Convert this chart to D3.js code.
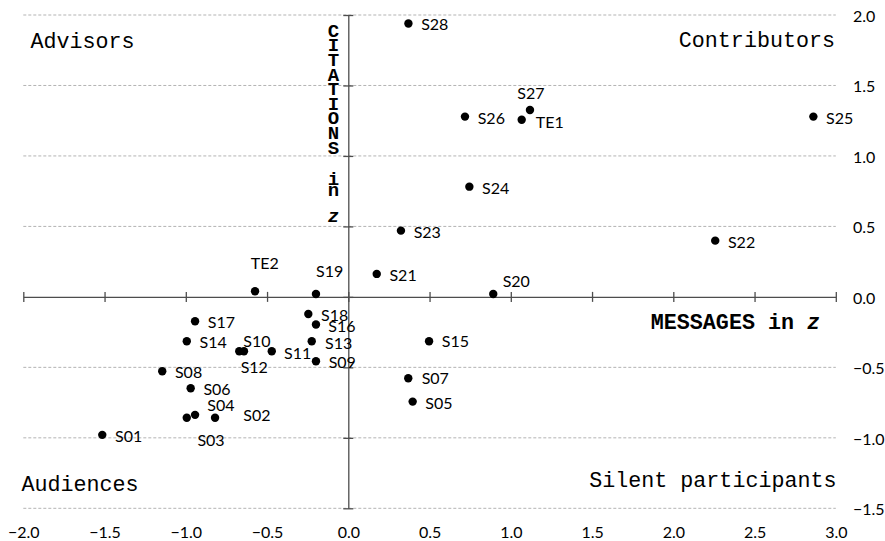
<!DOCTYPE html>
<html>
<head>
<meta charset="utf-8">
<script src="https://cdn.jsdelivr.net/npm/d3@7"></script>
<style>
  html, body { margin: 0; padding: 0; background: #fff; }
  svg { display: block; }
</style>
</head>
<body>
<svg id="chart" width="885" height="541"></svg>
<script>
// ---- data ----
const names = ["S01","S02","S03","S04","S05","S06","S07","S08","S09","S10",
               "S11","S12","S13","S14","S15","S16","S17","S18","S19","S20",
               "S21","S22","S23","S24","S25","S26","S27","S28","TE1","TE2"];
const messagesZ = [-1.514,-0.820,-0.994,-0.943,0.396,-0.970,0.369,-1.145,-0.199,-0.642,
                   -0.471,-0.671,-0.225,-0.994,0.497,-0.199,-0.943,-0.246,-0.199,0.892,
                   0.175,2.258,0.324,0.745,2.862,0.718,1.118,0.370,1.067,-0.574];
const citationsZ = [-0.979,-0.858,-0.858,-0.837,-0.743,-0.648,-0.577,-0.528,-0.457,-0.386,
                    -0.386,-0.386,-0.315,-0.315,-0.315,-0.196,-0.173,-0.121,0.021,0.021,
                    0.163,0.399,0.470,0.782,1.279,1.279,1.326,1.940,1.257,0.040];
const xTicks = [-2.0,-1.5,-1.0,-0.5,0.0,0.5,1.0,1.5,2.0,2.5,3.0];
const yTicks = [2.0,1.5,1.0,0.5,0.0,-0.5,-1.0,-1.5];
const quadrantLabels = ["Advisors","Contributors","Audiences","Silent participants"];
const xTitle = ["MESSAGES in ", "z"];
const yTitleWords = "CITATIONSin";
const yTitleVar = "z";

// ---- layout (px) ----
const yTitleBaselines = [36.7, 51.3, 65.9, 80.5, 95.1, 109.7, 124.3, 138.9, 153.5, 184.5, 195.5];
const yTitleVarBaseline = 221.5;
const yTitleX = 333.5;
const defaultOffset = [12.7, 7];
const labelOffsets = {
  TE2: [-4.3, -22.7], S19: [0, -17.3], S27: [-12.7, -11.3], TE1: [14, 8.3],
  S20: [9.4, -7.3], S16: [12.3, 7.7], S13: [13.3, 7.6], S11: [12.3, 7.6],
  S10: [-0.7, -4.7], S12: [1.4, 22], S04: [12.3, -4.3], S02: [28.3, 2.7],
  S03: [10.6, 27.7], S15: [12.7, 6], S07: [13.4, 5.6]
};

const svg = d3.select("#chart");
const x = d3.scaleLinear().domain([-2, 3]).range([23.3, 835.8]);
const y = d3.scaleLinear().domain([-1.5, 2]).range([508.3, 15]);

const sansFont = "Lato, 'Open Sans', sans-serif";
const monoFont = "'Liberation Mono', 'Courier New', monospace";

// gridlines
svg.append("g").selectAll("line")
  .data(yTicks.filter(d => d !== 0))
  .join("line")
  .attr("x1", x(-2)).attr("x2", x(3))
  .attr("y1", d => y(d)).attr("y2", d => y(d))
  .attr("stroke", "#b3b3b3").attr("stroke-width", 1)
  .attr("stroke-dasharray", "3,2");

// x axis (through y=0)
const xAxis = svg.append("g")
  .attr("transform", `translate(0,${y(0)})`)
  .call(d3.axisBottom(x).tickValues(xTicks).tickSize(4).tickFormat("").tickSizeOuter(0));
xAxis.selectAll(".tick line").attr("y1", -5).attr("y2", 5);
xAxis.selectAll("line, path").attr("stroke", "#4d4d4d").attr("stroke-width", 1.3);

// y axis (through x=0)
const yAxis = svg.append("g")
  .attr("transform", `translate(${x(0)},0)`)
  .call(d3.axisLeft(y).tickValues(yTicks).tickSize(5).tickFormat("").tickSizeOuter(0));
yAxis.selectAll(".tick line").attr("x1", -5).attr("x2", 5);
yAxis.selectAll("line, path").attr("stroke", "#4d4d4d").attr("stroke-width", 1.3);

// x tick labels at the bottom
const xLab = svg.append("g")
  .attr("transform", `translate(0,526)`)
  .call(d3.axisBottom(x).tickValues(xTicks).tickSize(0).tickFormat(d3.format(".1f")));
xLab.select(".domain").remove();
xLab.selectAll("text").attr("font-family", sansFont).attr("font-size", 16)
  .attr("fill", "#000").attr("dy", "0.72em").attr("y", 0);

// y tick labels at the right
const yLab = svg.append("g")
  .attr("transform", `translate(853,0)`)
  .call(d3.axisRight(y).tickValues(yTicks).tickSize(0).tickFormat(d3.format(".1f")));
yLab.select(".domain").remove();
yLab.selectAll("text").attr("font-family", sansFont).attr("font-size", 16)
  .attr("fill", "#000").attr("x", 0).attr("dy", "0.4em").attr("text-anchor", "start");

// quadrant labels
const qpos = [
  {x: 30.5, y: 48, anchor: "start"},
  {x: 835, y: 47, anchor: "end"},
  {x: 21.5, y: 490.5, anchor: "start"},
  {x: 836.5, y: 487, anchor: "end"}
];
svg.append("g").selectAll("text")
  .data(quadrantLabels)
  .join("text")
  .attr("x", (d, i) => qpos[i].x).attr("y", (d, i) => qpos[i].y)
  .attr("text-anchor", (d, i) => qpos[i].anchor)
  .attr("font-family", monoFont).attr("font-size", 21.7)
  .attr("fill", "#000")
  .text(d => d);

// x axis title
const xt = svg.append("text")
  .attr("x", 820).attr("y", 328.5)
  .attr("text-anchor", "end")
  .attr("font-family", monoFont).attr("font-size", 21.7).attr("font-weight", "bold")
  .attr("fill", "#000");
xt.append("tspan").text(xTitle[0]);
xt.append("tspan").attr("font-style", "italic").text(xTitle[1]);

// y axis title: stacked letters, per-glyph positions in one text element
svg.append("text")
  .attr("x", yTitleBaselines.map(() => yTitleX).join(" "))
  .attr("y", yTitleBaselines.join(" "))
  .attr("text-anchor", "middle")
  .attr("font-family", monoFont).attr("font-size", 19).attr("font-weight", "bold")
  .attr("fill", "#000")
  .text(yTitleWords);
svg.append("text")
  .attr("x", yTitleX).attr("y", yTitleVarBaseline)
  .attr("text-anchor", "middle")
  .attr("font-family", monoFont).attr("font-size", 19).attr("font-weight", "bold")
  .attr("font-style", "italic")
  .attr("fill", "#000")
  .text(yTitleVar);

// points
const pts = names.map((n, i) => ({name: n, mx: messagesZ[i], cy: citationsZ[i]}));
svg.append("g").selectAll("circle")
  .data(pts)
  .join("circle")
  .attr("cx", d => x(d.mx)).attr("cy", d => y(d.cy))
  .attr("r", 4.2).attr("fill", "#000");

svg.append("g").selectAll("text")
  .data(pts)
  .join("text")
  .attr("x", d => x(d.mx) + (labelOffsets[d.name] || defaultOffset)[0])
  .attr("y", d => y(d.cy) + (labelOffsets[d.name] || defaultOffset)[1])
  .attr("font-family", sansFont).attr("font-size", 16)
  .attr("fill", "#000")
  .text(d => d.name);
</script>
</body>
</html>
